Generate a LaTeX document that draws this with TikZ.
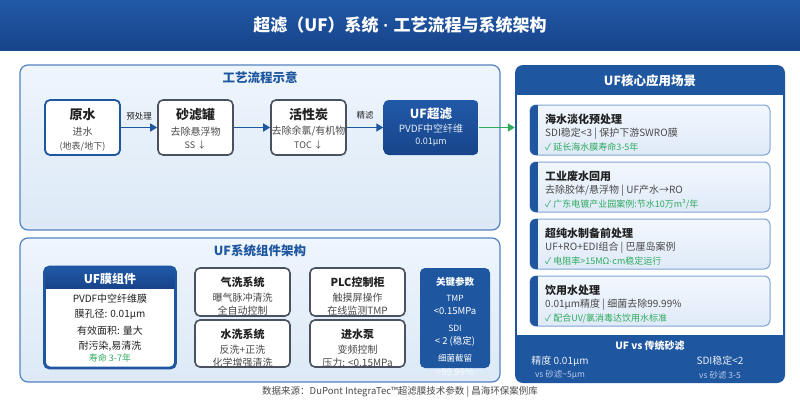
\documentclass[tikz,border=0pt]{standalone}
\usepackage{fontspec}
\setmainfont{Noto Sans CJK SC}
\newfontfamily\latf{Liberation Sans}
\usetikzlibrary{arrows.meta,calc}
\definecolor{tA}{HTML}{2159A8}
\definecolor{tB}{HTML}{17448A}
\definecolor{blueD}{HTML}{1E56A0}
\definecolor{panelB}{HTML}{5582C0}
\definecolor{pTop}{HTML}{EEF5FD}
\definecolor{pBot}{HTML}{DCE9F6}
\definecolor{grayB}{HTML}{4A5160}
\definecolor{greenA}{HTML}{2EAA5C}
\definecolor{txtD}{HTML}{222222}
\definecolor{txtG}{HTML}{4A4A4A}
\definecolor{cardB}{HTML}{7FA4D6}
\definecolor{cTop}{HTML}{F2F7FD}
\definecolor{cBot}{HTML}{DFEAF8}
\definecolor{lightT}{HTML}{B8CCEA}
\tikzset{
  panel/.style={draw=panelB, line width=1.2pt, rounded corners=8pt, top color=pTop, bottom color=pBot, inner sep=0pt},
  flowbox/.style={draw=grayB, line width=1.6pt, rounded corners=5pt, fill=white, inner sep=0pt},
  bluebox/.style={draw=blueD, line width=1.8pt, rounded corners=5pt, fill=white, inner sep=0pt},
  darkbox/.style={rounded corners=5pt, top color=tA, bottom color=tB, inner sep=0pt},
  arr/.style={draw=blueD, line width=1.6pt, -{Triangle[length=7pt,width=8pt]}},
  garr/.style={draw=greenA, line width=1.6pt, -{Triangle[length=7pt,width=8pt]}},
  card/.style={draw=cardB, line width=1pt, rounded corners=6pt, top color=cTop, bottom color=cBot, inner sep=0pt},
  ttl/.style={font=\fontsize{13}{15}\selectfont\bfseries, text=txtD, inner sep=0pt},
  sub/.style={font=\fontsize{10}{12}\selectfont, text=txtG, inner sep=0pt},
  small/.style={font=\fontsize{9}{11}\selectfont, text=txtG, inner sep=0pt},
  ctitle/.style={font=\fontsize{11}{13}\selectfont\bfseries, text=txtD, inner sep=0pt, anchor=west},
  csub/.style={font=\fontsize{10}{12}\selectfont, text=txtG, inner sep=0pt, anchor=west},
  cgreen/.style={font=\fontsize{9}{11}\selectfont, text=greenA, inner sep=0pt, anchor=west},
  ptitle/.style={font=\fontsize{12.5}{15}\selectfont\bfseries, text=blueD, inner sep=0pt},
  wt/.style={text=white, inner sep=0pt},
}
\begin{document}
\begin{tikzpicture}[x=1pt,y=-1pt]
\useasboundingbox (0,0) rectangle (800,400);
\fill[white] (0,0) rectangle (800,400);
% title bar
\fill[top color=tA, bottom color=tB] (0,0) rectangle (800,50);
\node[wt, font=\fontsize{17}{20}\selectfont\bfseries] (title) at (400,25) {超滤（UF）系统{\latf\bfseries\ ·\ }工艺流程与系统架构};

% ===== top-left panel =====
\node[panel, minimum width=480pt, minimum height=165pt] (p1) at (260,147.5) {};
\node[ptitle] (p1t) at (260,78) {工艺流程示意};

\node[bluebox, minimum width=75pt, minimum height=55pt] (yuan) at (82.5,127.5) {};
\node[ttl] (yuanA) at (82.5,115) {原水};
\node[sub] (yuanB) at (82.5,132) {进水};
\node[small] (yuanC) at (82.5,146.5) {(地表/地下)};

\node[flowbox, minimum width=75pt, minimum height=55pt] (sha) at (195.5,127.5) {};
\node[ttl] (shaA) at (195.5,115) {砂滤罐};
\node[sub] (shaB) at (195.5,131.5) {去除悬浮物};
\node[small] (shaC) at (195.5,145) {SS ↓};

\node[flowbox, minimum width=75pt, minimum height=55pt] (tan) at (308.5,127.5) {};
\node[ttl] (tanA) at (308.5,115) {活性炭};
\node[sub] (tanB) at (308.5,131.5) {去除余氯/有机物};
\node[small] (tanC) at (308.5,145) {TOC ↓};

\node[darkbox, minimum width=95pt, minimum height=55pt] (uf) at (431,127.5) {};
\node[wt, font=\fontsize{12.5}{15}\selectfont\bfseries] (ufA) at (431,114) {UF超滤};
\node[wt, font=\fontsize{10}{12}\selectfont, text=white!88!blueD] (ufB) at (431,128.5) {PVDF中空纤维};
\node[wt, font=\fontsize{9}{11}\selectfont, text=white!88!blueD] (ufC) at (431,142.5) {0.01μm};

\draw[arr] (yuan.east) -- node[small, font=\fontsize{8.5}{10}\selectfont, text=txtD, above=7pt] (l1) {预处理} (sha.west);
\draw[arr] (sha.east) -- (tan.west);
\draw[arr] (tan.east) -- node[small, font=\fontsize{8.5}{10}\selectfont, text=txtD, above=7pt] (l2) {精滤} (uf.west);

% ===== bottom-left panel =====
\node[panel, minimum width=480pt, minimum height=144pt] (p2) at (260,310) {};
\node[ptitle] (p2t) at (260,251) {UF系统组件架构};

\node[bluebox, minimum width=130pt, minimum height=100pt] (mem) at (110,317.5) {};
\begin{scope}
\clip[rounded corners=5pt] (mem.north west) rectangle (mem.south east);
\fill[top color=tA, bottom color=tB] (mem.north west) rectangle ($(mem.north east)+(0,22)$);
\end{scope}
\draw[draw=blueD, line width=1.8pt, rounded corners=5pt] (mem.north west) rectangle (mem.south east);
\node[wt, font=\fontsize{12}{14}\selectfont\bfseries] (memA) at (110,279) {UF膜组件};
\node[sub, text=txtD] (memB) at (110,298.5) {PVDF中空纤维膜};
\node[sub, text=txtD] (memC) at (110,314.5) {膜孔径: 0.01μm};
\node[sub, text=txtD] (memD) at (110,330.5) {有效面积: 量大};
\node[sub, text=txtD] (memE) at (110,346.5) {耐污染,易清洗};
\node[small, text=greenA] (memF) at (110,358.5) {寿命 3-7年};

\node[flowbox, minimum width=95pt, minimum height=48pt] (qi) at (242.5,292) {};
\node[ttl, font=\fontsize{11}{13}\selectfont\bfseries] (qiA) at (242.5,282) {气洗系统};
\node[sub] (qiB) at (242.5,298) {曝气脉冲清洗};
\node[sub] (qiC) at (242.5,311) {全自动控制};

\node[flowbox, minimum width=95pt, minimum height=47pt] (shui) at (242.5,343.5) {};
\node[ttl, font=\fontsize{11}{13}\selectfont\bfseries] (shuiA) at (242.5,334) {水洗系统};
\node[sub] (shuiB) at (242.5,350) {反洗+正洗};
\node[sub] (shuiC) at (242.5,363) {化学增强清洗};

\node[flowbox, minimum width=95pt, minimum height=48pt] (plc) at (357.5,292) {};
\node[ttl, font=\fontsize{11}{13}\selectfont\bfseries] (plcA) at (357.5,282) {PLC控制柜};
\node[sub] (plcB) at (357.5,298) {触摸屏操作};
\node[sub] (plcC) at (357.5,311) {在线监测TMP};

\node[flowbox, minimum width=95pt, minimum height=47pt] (pump) at (357.5,343.5) {};
\node[ttl, font=\fontsize{11}{13}\selectfont\bfseries] (pumpA) at (357.5,334) {进水泵};
\node[sub] (pumpB) at (357.5,350) {变频控制};
\node[sub] (pumpC) at (357.5,363) {压力: <0.15MPa};

\node[rounded corners=5pt, fill=blueD, minimum width=70pt, minimum height=100pt, inner sep=0pt] (key) at (455,318) {};
\node[wt, font=\fontsize{9.5}{11}\selectfont\bfseries] (keyA) at (455,282) {关键参数};
\node[wt, font=\fontsize{8.5}{10}\selectfont] (keyB) at (455,298) {TMP};
\node[wt, font=\fontsize{9.5}{11}\selectfont] (keyC) at (455,311) {<0.15MPa};
\node[wt, font=\fontsize{8.5}{10}\selectfont] (keyD) at (455,328) {SDI};
\node[wt, font=\fontsize{9.5}{11}\selectfont] (keyE) at (455,341) {< 2 (稳定)};
\node[wt, font=\fontsize{8.5}{10}\selectfont] (keyF) at (455,358) {细菌截留};
\node[wt, font=\fontsize{9.5}{11}\selectfont, text=white!70!pBot] (keyG) at (455,372) {>99.99\%};

% ===== right panel =====
\node[rounded corners=8pt, fill=blueD, minimum width=270pt, minimum height=318pt, inner sep=0pt] (rp) at (650,224) {};
\fill[white] (517,95) rectangle (783,335);
\node[wt, font=\fontsize{12.5}{15}\selectfont\bfseries] (rpt) at (650,81) {UF核心应用场景};

\draw[garr] (uf.east) -- (uf.east -| rp.west);

% cards
\foreach \nm/\yy in {c1/105, c2/162, c3/219, c4/276}{
  \node[card, minimum width=240pt, minimum height=50pt] (\nm) at (650,\yy+25) {};
  \begin{scope}
    \clip[rounded corners=6pt] (530,\yy) rectangle (770,\yy+50);
    \fill[blueD] (530,\yy) rectangle (538,\yy+50);
  \end{scope}
}
\node[ctitle] (c1a) at (545,119) {海水淡化预处理};
\node[csub] (c1b) at (545,134) {SDI稳定<3 | 保护下游SWRO膜};
\node[cgreen] (c1c) at (545,147.5) {✓ 延长海水膜寿命3-5年};

\node[ctitle] (c2a) at (545,176) {工业废水回用};
\node[csub] (c2b) at (545,191) {去除胶体/悬浮物 | UF产水→RO};
\node[cgreen] (c2c) at (545,204.5) {✓ 广东电镀产业园案例:节水10万m³/年};

\node[ctitle] (c3a) at (545,233) {超纯水制备前处理};
\node[csub] (c3b) at (545,248) {UF+RO+EDI组合 | 巴厘岛案例};
\node[cgreen] (c3c) at (545,261.5) {✓ 电阻率>15MΩ{\latf ·}cm稳定运行};

\node[ctitle] (c4a) at (545,290) {饮用水处理};
\node[csub] (c4b) at (545,305) {0.01μm精度 | 细菌去除99.99\%};
\node[cgreen] (c4c) at (545,318.5) {✓ 配合UV/氯消毒达饮用水标准};

\node[wt, font=\fontsize{10}{12}\selectfont\bfseries] (cmpT) at (650,346) {UF vs 传统砂滤};
\node[wt, font=\fontsize{10}{12}\selectfont, text=white!90!blueD] (cmpA) at (560,361) {精度 0.01μm};
\node[wt, font=\fontsize{8.5}{10}\selectfont, text=lightT] (cmpB) at (560,375) {vs 砂滤\textasciitilde 5μm};
\node[wt, font=\fontsize{10}{12}\selectfont, text=white!90!blueD] (cmpC) at (720,361) {SDI稳定<2};
\node[wt, font=\fontsize{8.5}{10}\selectfont, text=lightT] (cmpD) at (720,375) {vs 砂滤 3-5};

% footer
\node[font=\fontsize{9.5}{11}\selectfont, text=txtG, inner sep=0pt] (foot) at (400,392) {数据来源：DuPont IntegraTec™超滤膜技术参数 | 昌海环保案例库};
\end{tikzpicture}
\end{document}
